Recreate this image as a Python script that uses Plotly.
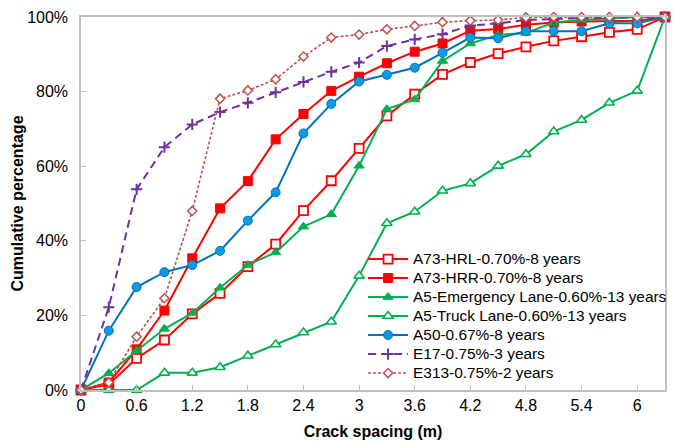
import plotly.graph_objects as go

spacing = [0, 0.3, 0.6, 0.9, 1.2, 1.5, 1.8, 2.1, 2.4, 2.7, 3.0, 3.3, 3.6, 3.9, 4.2, 4.5, 4.8, 5.1, 5.4, 5.7, 6.0, 6.3]

a73_hrl = [0, 1.5, 8.5, 13.4, 20.4, 25.9, 33.1, 39.1, 48.1, 56.1, 64.8, 73.5, 79.3, 84.6, 87.8, 90.2, 92.0, 93.6, 94.7, 95.9, 96.7, 100]
a73_hrr = [0, 2.0, 10.9, 21.3, 35.3, 48.7, 56.0, 67.2, 74.0, 80.2, 84.0, 87.6, 90.7, 92.9, 96.3, 96.8, 97.9, 98.5, 98.8, 99.0, 99.0, 100]
a5_emerg = [0, 4.5, 10.5, 16.4, 20.6, 27.4, 33.5, 36.9, 43.8, 47.1, 60.1, 75.3, 77.9, 88.2, 92.9, 95.2, 95.7, 98.5, 99.2, 99.7, 100, 100]
a5_truck = [0, 0, 0, 4.6, 4.6, 6.1, 9.2, 12.2, 15.4, 18.3, 30.6, 44.7, 47.8, 53.4, 55.4, 60.1, 63.2, 69.3, 72.4, 77.0, 80.2, 100]
a50 = [0, 15.9, 27.6, 31.6, 33.5, 37.3, 45.4, 53.0, 68.8, 76.7, 82.7, 84.5, 86.4, 90.4, 94.5, 94.3, 96.2, 96.2, 96.2, 98.3, 98.3, 100]
e17 = [0, 22.2, 53.8, 65.1, 71.2, 74.5, 77.0, 79.8, 82.6, 85.3, 87.8, 92.2, 94.0, 95.4, 97.7, 98.3, 99.2, 99.5, 99.7, 99.8, 100, 100]
e313 = [0, 2.0, 14.3, 24.6, 48.0, 78.1, 80.3, 83.3, 89.4, 94.5, 95.3, 96.7, 97.6, 98.6, 99.0, 99.2, 99.9, 100, 100, 100, 100, 100]

x_ticks = [0, 0.6, 1.2, 1.8, 2.4, 3.0, 3.6, 4.2, 4.8, 5.4, 6.0]
x_tick_text = ["0", "0.6", "1.2", "1.8", "2.4", "3", "3.6", "4.2", "4.8", "5.4", "6"]
y_ticks = [0, 0.2, 0.4, 0.6, 0.8, 1.0]

RED = "#FF0000"
GREEN = "#00B050"
BLUE = "#0070C0"
PURPLE = "#7030A0"
BROWN = "#C0504D"

series = [
    ("A73-HRL-0.70%-8 years", a73_hrl, RED, "solid", 2, dict(symbol="square", size=9, color="white", line=dict(color=RED, width=1.8))),
    ("A73-HRR-0.70%-8 years", a73_hrr, RED, "solid", 2, dict(symbol="square", size=9, color=RED, line=dict(color=RED, width=1))),
    ("A5-Emergency Lane-0.60%-13 years", a5_emerg, GREEN, "solid", 2, dict(symbol="triangle-up", size=9, color=GREEN, line=dict(color=GREEN, width=1))),
    ("A5-Truck Lane-0.60%-13 years", a5_truck, GREEN, "solid", 2, dict(symbol="triangle-up", size=9, color="white", line=dict(color=GREEN, width=1.6))),
    ("A50-0.67%-8 years", a50, BLUE, "solid", 2, dict(symbol="circle", size=9, color="#0A9BE0", line=dict(color=BLUE, width=1))),
    ("E17-0.75%-3 years", e17, PURPLE, "8px,5px", 2, dict(symbol="cross-thin", size=8, color=PURPLE, line=dict(color=PURPLE, width=2))),
    ("E313-0.75%-2 years", e313, BROWN, "3px,2px", 1.6, dict(symbol="diamond", size=7, color="white", line=dict(color=BROWN, width=1.5))),
]

fig = go.Figure()
for name, vals, col, dash, w, mk in series:
    fig.add_trace(go.Scatter(
        x=spacing, y=[v / 100 for v in vals],
        name='<span style="font-size:15.4px">' + name + '</span>',
        mode="lines+markers", cliponaxis=False,
        line=dict(color=col, width=w, dash=dash), marker=mk,
    ))

FAM = "Liberation Sans, Arial, sans-serif"
axis_font = dict(family=FAM, size=16, color="black")
fig.update_layout(
    width=673, height=441,
    margin=dict(l=81, r=8, t=17, b=51, autoexpand=False),
    paper_bgcolor="white", plot_bgcolor="white",
    font=axis_font,
    showlegend=True,
    legend=dict(x=0.483, y=0.39, xanchor="left", yanchor="top",
                bgcolor="rgba(0,0,0,0)", font=dict(size=12, family=FAM, color="black"),
                tracegroupgap=0, itemwidth=40),
    xaxis=dict(range=[0, 6.3], tickvals=x_ticks, ticktext=x_tick_text, showgrid=False, zeroline=False,
               showline=True, linecolor="#BFBFBF", linewidth=1.5, mirror=True, automargin=False,
               ticks="inside", ticklen=5, tickcolor="#BFBFBF",
               title=dict(text="<b>Crack spacing (m)</b>", font=dict(size=16, family=FAM), standoff=13),
               tickfont=axis_font),
    yaxis=dict(range=[0, 1], tickvals=y_ticks, tickformat=".0%", showgrid=False, zeroline=False,
               showline=True, linecolor="#BFBFBF", linewidth=1.5, mirror=True, automargin=False,
               ticks="inside", ticklen=5, tickcolor="#BFBFBF", ticklabelstandoff=8,
               title=dict(text="<b>Cumulative percentage</b>", font=dict(size=16, family=FAM), standoff=0),
               tickfont=axis_font),
)

fig.write_html("out.html", config={"displayModeBar": False},
               post_script="document.body.style.margin='0';document.body.style.overflow='hidden';")
